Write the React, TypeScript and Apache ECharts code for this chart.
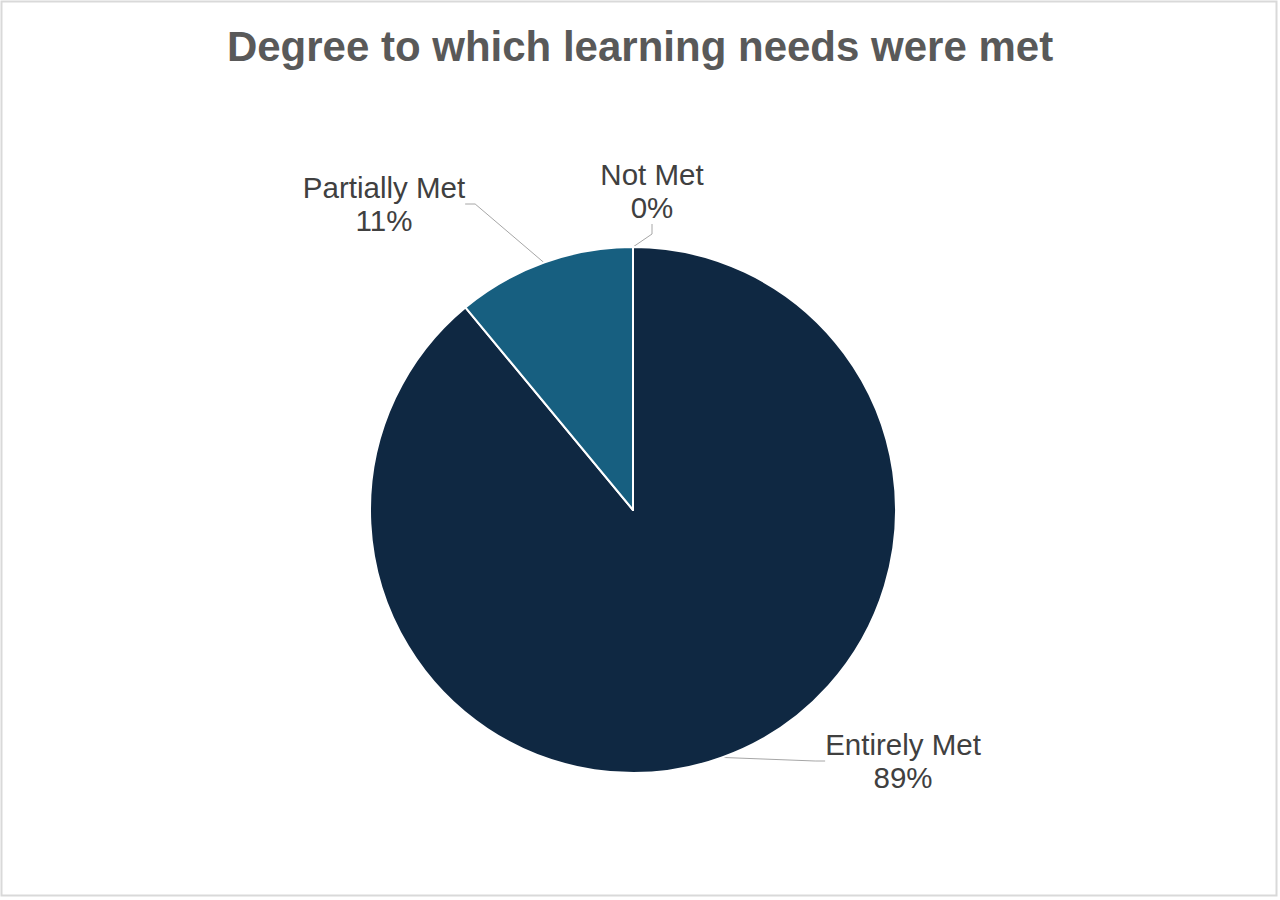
import React from 'react';
import * as echarts from 'echarts';

const titleText = 'Degree to which learning needs were met';
const categories = ['Entirely Met', 'Partially Met', 'Not Met'];
const percents = [89, 11, 0];
const colors = ['#0f2842', '#175f80', '#9bb7d4'];

// where each label block is centred (px in the 1280x900 canvas)
const labelSpots = [
  [903, 761],
  [384, 204],
  [652, 191],
];

const App = () => {
  const chartRef = React.useRef(null);

  React.useEffect(() => {
    const myChart = echarts.init(chartRef.current, null, { renderer: 'svg' });

    myChart.setOption({
      animation: false,
      backgroundColor: '#ffffff',
      title: {
        text: titleText,
        left: 'center',
        top: 20,
        textStyle: {
          fontFamily: '"Liberation Sans", Arial, sans-serif',
          fontSize: 42,
          fontWeight: 'bold',
          color: '#595959',
        },
      },
      graphic: [
        {
          type: 'rect',
          shape: { x: 1.5, y: 1.5, width: 1275, height: 894 },
          style: { fill: 'none', stroke: '#d9d9d9', lineWidth: 2 },
          silent: true,
        },
      ],
      series: [
        {
          type: 'pie',
          center: [633, 510],
          radius: 263,
          startAngle: 90,
          clockwise: true,
          avoidLabelOverlap: false,
          data: categories.map((name, i) => ({
            name,
            value: percents[i],
            itemStyle: { color: colors[i] },
          })),
          itemStyle: { borderColor: '#ffffff', borderWidth: 2 },
          label: {
            show: true,
            position: 'outside',
            formatter: '{b}\n{d}%',
            fontFamily: '"Liberation Sans", Arial, sans-serif',
            fontSize: 29.5,
            lineHeight: 33,
            color: '#404040',
            align: 'center',
          },
          labelLine: {
            show: true,
            length: 20,
            length2: 10,
            lineStyle: { color: '#a6a6a6', width: 1 },
          },
          labelLayout: (params: any) => {
            const spot = labelSpots[params.dataIndex];
            return {
              x: spot[0],
              y: spot[1],
              align: 'center',
              verticalAlign: 'middle',
            };
          },
          emphasis: { disabled: true },
        },
      ],
    });

    return () => {
      myChart.dispose();
    };
  }, []);

  return (
    <div
      ref={chartRef}
      style={{ position: 'absolute', left: 0, top: 0, width: '1280px', height: '900px' }}
    />
  );
};

export default App;
